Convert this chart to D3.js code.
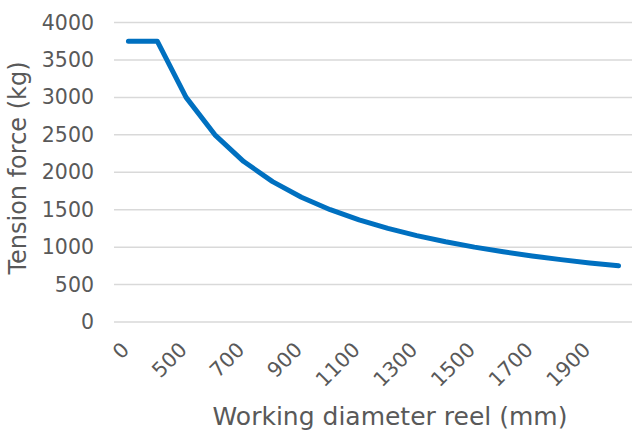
<!DOCTYPE html>
<html>
<head>
<meta charset="utf-8">
<script src="https://cdn.jsdelivr.net/npm/d3@7"></script>
<style>
  body { margin: 0; background: #fff; }
  text { font-family: "DejaVu Sans", sans-serif; fill: #595959; }
</style>
</head>
<body>
<div id="chart"></div>
<script>
// Diameter categories (mm) and tension force (kg)
var diameters = [0, 400, 500, 600, 700, 800, 900, 1000, 1100, 1200, 1300, 1400, 1500, 1600, 1700, 1800, 1900, 2000];
var tension = [3750, 3750, 3000, 2500, 2143, 1875, 1667, 1500, 1364, 1250, 1154, 1071, 1000, 938, 882, 833, 789, 750];
var yTicks = [0, 500, 1000, 1500, 2000, 2500, 3000, 3500, 4000];
var xLabels = [0, 500, 700, 900, 1100, 1300, 1500, 1700, 1900];

var width = 632, height = 432;
var fontFam = "'DejaVu Sans', sans-serif";

var svg = d3.select("#chart")
  .append("svg")
  .attr("width", width)
  .attr("height", height);

var x = d3.scaleBand()
  .domain(diameters)
  .range([114, 633]);

var y = d3.scaleLinear()
  .domain([0, 4000])
  .range([322, 22.5]);

// gridlines
svg.append("g")
  .selectAll("line")
  .data(yTicks)
  .enter()
  .append("line")
  .attr("x1", 114)
  .attr("x2", 632)
  .attr("y1", (d) => y(d))
  .attr("y2", (d) => y(d))
  .attr("stroke", "#d9d9d9")
  .attr("stroke-width", 1.5);

// y axis
var yAxis = d3.axisLeft(y).tickValues(yTicks).tickSize(0).tickPadding(20)
  .tickFormat(d3.format("d"));
svg.append("g")
  .attr("transform", "translate(114,0)")
  .call(yAxis)
  .call((g) => g.select(".domain").remove())
  .selectAll("text")
  .style("font-size", "20.5px")
  .style("font-family", fontFam)
  .attr("fill", "#595959");

// x axis
var xAxis = d3.axisBottom(x).tickValues(xLabels).tickSize(0).tickPadding(0);
svg.append("g")
  .attr("transform", "translate(0,346)")
  .call(xAxis)
  .call((g) => g.select(".domain").remove())
  .selectAll("text")
  .style("font-size", "20.5px")
  .style("font-family", fontFam)
  .attr("fill", "#595959")
  .attr("text-anchor", "end")
  .attr("y", 0)
  .attr("dy", "0.35em")
  .attr("transform", "translate(-3,0) rotate(-45)");

// line
var line = d3.line()
  .x((d, i) => x(diameters[i]) + x.bandwidth() / 2)
  .y((d) => y(d));

svg.append("path")
  .datum(tension)
  .attr("d", line)
  .attr("fill", "none")
  .attr("stroke", "#0070c0")
  .attr("stroke-width", 5)
  .attr("stroke-linecap", "round")
  .attr("stroke-linejoin", "round");

// axis titles
svg.append("text")
  .attr("transform", "translate(26,168) rotate(-90)")
  .attr("text-anchor", "middle")
  .style("font-size", "24px")
  .text("Tension force (kg)");

svg.append("text")
  .attr("x", 390)
  .attr("y", 425)
  .attr("text-anchor", "middle")
  .style("font-size", "25px")
  .text("Working diameter reel (mm)");
</script>
</body>
</html>
